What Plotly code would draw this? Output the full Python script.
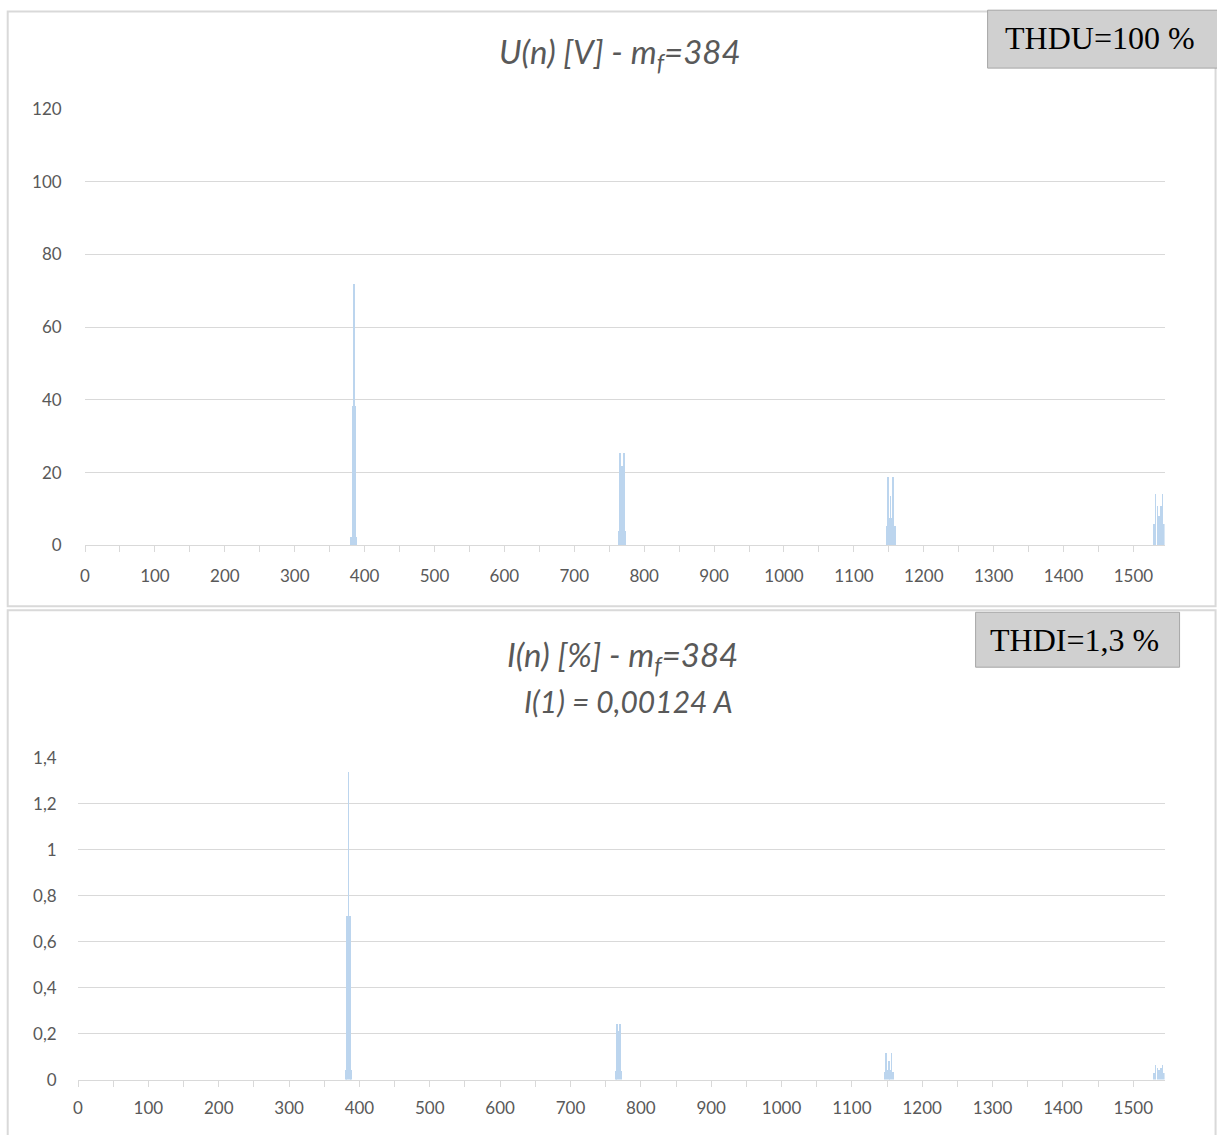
import plotly.graph_objects as go

W, H = 1217, 1135

# ---------------- data ----------------
# Voltage spectrum U(n) [V] (harmonic order -> amplitude)
u_orders = [380, 382, 384, 386, 388,
            763, 765, 768, 771, 773,
            1146, 1148, 1150, 1152, 1154, 1156, 1158,
            1529, 1531, 1534, 1536, 1539, 1541, 1543]
u_values = [2.2, 38.3, 72.0, 38.3, 2.2,
            3.9, 25.4, 21.7, 25.4, 3.9,
            5.2, 18.8, 7.5, 13.5, 7.5, 18.8, 5.2,
            6.0, 14.2, 10.7, 8.0, 10.7, 14.2, 6.0]

# Current spectrum I(n) [%]
i_orders = [380, 382, 384, 386, 388,
            764, 766, 768, 770, 772,
            1146, 1148, 1150, 1152, 1154, 1156, 1158,
            1529, 1531, 1534, 1536, 1539, 1541, 1543]
i_values = [0.04, 0.71, 1.34, 0.71, 0.04,
            0.035, 0.24, 0.21, 0.24, 0.035,
            0.032, 0.116, 0.043, 0.08, 0.043, 0.116, 0.032,
            0.03, 0.065, 0.05, 0.04, 0.05, 0.065, 0.03]

x_tickvals = list(range(0, 1501, 100))
x_ticktext = [str(v) for v in x_tickvals]

u_tickvals = [0, 20, 40, 60, 80, 100, 120]
u_ticktext = ["0", "20", "40", "60", "80", "100", "120"]
i_tickvals = [0, 0.2, 0.4, 0.6, 0.8, 1.0, 1.2, 1.4]
i_ticktext = ["0", "0,2", "0,4", "0,6", "0,8", "1", "1,2", "1,4"]

n_categories = 1545

# ---------------- helpers (pixel -> paper) ----------------
def px_x(px):
    return ((px - 5.3) / 0.996) / W

def px_y(py):
    return 1 - ((py - 9.8) / 0.983) / H

BAR = "#bcd5ee"
GRID = "#d9d9d9"
TXT = "#595959"
FONT = "Lato"

fig = go.Figure()
fig.add_trace(go.Bar(x=u_orders, y=u_values, width=1.0, marker=dict(color=BAR, line=dict(width=0)),
                     xaxis="x", yaxis="y", showlegend=False))
fig.add_trace(go.Bar(x=i_orders, y=i_values, width=1.0, marker=dict(color=BAR, line=dict(width=0)),
                     xaxis="x2", yaxis="y2", showlegend=False))

xcommon = dict(range=[-0.5, n_categories - 0.5], tickmode="array", tickvals=x_tickvals, ticktext=x_ticktext,
               showgrid=False, zeroline=False, showline=True, linecolor=GRID, linewidth=1,
               ticks="outside", ticklen=6, tickcolor=GRID, tickfont=dict(family=FONT, size=17, color=TXT),
               minor=dict(ticks="outside", ticklen=6, tickcolor=GRID, tickmode="linear", tick0=0, dtick=50,
                          showgrid=False),
               fixedrange=True)
ycommon = dict(showgrid=True, gridcolor=GRID, gridwidth=1, zeroline=False, showline=False,
               tickfont=dict(family=FONT, size=17, color=TXT), tickmode="array", fixedrange=True)

fig.update_layout(
    width=W, height=H,
    margin=dict(l=0, r=0, t=0, b=0),
    paper_bgcolor="white", plot_bgcolor="white",
    bargap=0,
    xaxis=dict(domain=[px_x(85), px_x(1165)], anchor="y", ticklabelstandoff=9, **xcommon),
    yaxis=dict(domain=[px_y(545), px_y(108)], anchor="x", range=[0, 120],
               tickvals=u_tickvals, ticktext=u_ticktext, ticklabelstandoff=22, **ycommon),
    xaxis2=dict(domain=[px_x(78), px_x(1165)], anchor="y2", ticklabelstandoff=7, **xcommon),
    yaxis2=dict(domain=[px_y(1080), px_y(758)], anchor="x2", range=[0, 1.4],
                tickvals=i_tickvals, ticktext=i_ticktext, ticklabelstandoff=20, **ycommon),
)

shapes = [
    # chart frames
    dict(type="rect", xref="paper", yref="paper", x0=px_x(8), x1=px_x(1216), y0=px_y(606), y1=0.9995,
         line=dict(color=GRID, width=2), fillcolor="rgba(0,0,0,0)", layer="below"),
    dict(type="rect", xref="paper", yref="paper", x0=px_x(8), x1=px_x(1216), y0=px_y(1160), y1=px_y(610),
         line=dict(color=GRID, width=2), fillcolor="rgba(0,0,0,0)", layer="below"),
    # THD boxes
    dict(type="rect", xref="paper", yref="paper", x0=px_x(988), x1=px_x(1235), y0=px_y(67), y1=px_y(9),
         line=dict(color="#a6a6a6", width=1), fillcolor="#d0d0d0", layer="above"),
    dict(type="rect", xref="paper", yref="paper", x0=px_x(976), x1=px_x(1180), y0=px_y(667), y1=px_y(612),
         line=dict(color="#a6a6a6", width=1), fillcolor="#d0d0d0", layer="above"),
]
fig.update_layout(shapes=shapes)

annotations = [
    dict(text="<i>U(n) [V] - m<sub>f</sub>=384</i>", x=px_x(620), y=px_y(52), xref="paper", yref="paper",
         showarrow=False, font=dict(family=FONT, size=33, color=TXT), xanchor="center", yanchor="middle"),
    dict(text="<i>I(n) [%] - m<sub>f</sub>=384</i>", x=px_x(623), y=px_y(656),
         xref="paper", yref="paper", showarrow=False, font=dict(family=FONT, size=33, color=TXT),
         xanchor="center", yanchor="middle"),
    dict(text="<i>I(1) = 0,00124 A</i>", x=px_x(629), y=px_y(701),
         xref="paper", yref="paper", showarrow=False, font=dict(family=FONT, size=30, color=TXT),
         xanchor="center", yanchor="middle"),
    dict(text="THDU=100 %", x=px_x(1100), y=px_y(37), xref="paper", yref="paper", showarrow=False,
         font=dict(family="Liberation Serif", size=32, color="black"), xanchor="center", yanchor="middle"),
    dict(text="THDI=1,3 %", x=px_x(1075), y=px_y(640), xref="paper", yref="paper", showarrow=False,
         font=dict(family="Liberation Serif", size=32, color="black"), xanchor="center", yanchor="middle"),
]
fig.update_layout(annotations=annotations)

fig.write_html("out.html", config={"displayModeBar": False},
               post_script="document.body.style.margin='0';document.body.style.overflow='hidden';")
